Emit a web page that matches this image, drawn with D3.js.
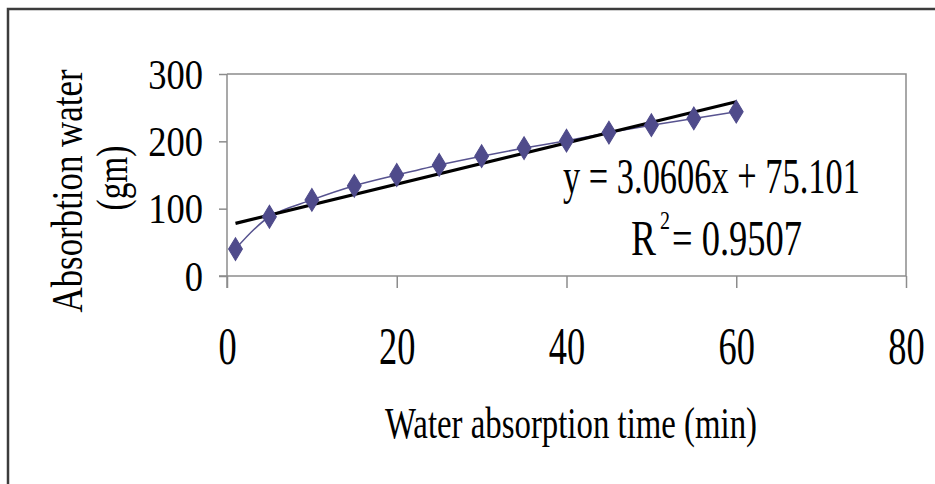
<!DOCTYPE html>
<html>
<head>
<meta charset="utf-8">
<script src="https://cdn.jsdelivr.net/npm/d3@7"></script>
<style>
  html, body { margin: 0; padding: 0; background: #fff; }
  svg { display: block; }
  text { font-family: "Liberation Serif", "Times New Roman", serif; fill: #000; }
</style>
</head>
<body>
<svg id="chart" width="935" height="484"></svg>
<script>
// ---- data ----
const timeMin = [1, 5, 10, 15, 20, 25, 30, 35, 40, 45, 50, 55, 60];
const waterGm = [40, 88, 113, 134, 150, 165, 178, 190, 201, 213, 224, 234, 244];
const xTicks = [0, 20, 40, 60, 80];
const yTicks = [0, 100, 200, 300];
const trendSlope = 3.0606;
const trendIntercept = 75.101;
const equationText = "y = 3.0606x + 75.101";
const r2Value = "= 0.9507";
const xTitle = "Water absorption time (min)";
const yTitleLines = ["Absorbtion water", "(gm)"];

// ---- layout ----
const svg = d3.select("#chart");
const W = 935, H = 484;
const plot = { left: 227, right: 906, top: 74, bottom: 276 };
const x = d3.scaleLinear().domain([0, 80]).range([plot.left, plot.right]);
const y = d3.scaleLinear().domain([0, 300]).range([plot.bottom, plot.top]);

svg.append("rect").attr("width", W).attr("height", H).attr("fill", "#fff");

// outer frame
svg.append("rect")
  .attr("x", 8).attr("y", 9).attr("width", W + 20).attr("height", H + 20)
  .attr("fill", "none").attr("stroke", "#3c3c3c").attr("stroke-width", 2.5);

function squeeze(sel, factor) {
  sel.each(function () {
    const n = this.getComputedTextLength();
    d3.select(this).attr("textLength", n * factor).attr("lengthAdjust", "spacingAndGlyphs");
  });
}

// plot border (top & right)
svg.append("path")
  .attr("d", `M${plot.left},${plot.top}H${plot.right}V${plot.bottom}`)
  .attr("fill", "none").attr("stroke", "#8c8c8c").attr("stroke-width", 1.5);

// axes
const xAxis = d3.axisBottom(x).tickValues(xTicks).tickSize(12).tickSizeOuter(0).tickFormat(d3.format("d"));
const gx = svg.append("g").attr("transform", `translate(0,${plot.bottom})`).call(xAxis);
gx.select(".domain").attr("stroke", "#8c8c8c").attr("stroke-width", 1.5)
  .attr("d", `M${plot.left - 8},0H${plot.right}`);
gx.selectAll(".tick line").attr("stroke", "#8c8c8c").attr("stroke-width", 1.5);
gx.selectAll(".tick text")
  .attr("y", 0).attr("dy", 0)
  .attr("transform", "translate(0,88)")
  .style("font-size", "52px").style("font-family", "Liberation Serif").attr("fill", "#000");
squeeze(gx.selectAll(".tick text"), 0.7);

const yAxis = d3.axisLeft(y).tickValues(yTicks).tickSize(8).tickSizeOuter(0).tickFormat(d3.format("d"));
const gy = svg.append("g").attr("transform", `translate(${plot.left},0)`).call(yAxis);
gy.select(".domain").attr("stroke", "#8c8c8c").attr("stroke-width", 1.5)
  .attr("d", `M0,${plot.top}V${plot.bottom + 12}`);
gy.selectAll(".tick line").attr("stroke", "#8c8c8c").attr("stroke-width", 1.5);
gy.selectAll(".tick text")
  .attr("x", -24).attr("dy", "0.34em")
  .style("font-size", "42px").style("font-family", "Liberation Serif").attr("fill", "#000");
squeeze(gy.selectAll(".tick text"), 0.87);

// series line (smoothed)
const pts = timeMin.map((t, i) => [t, waterGm[i]]);
const line = d3.line().x(d => x(d[0])).y(d => y(d[1])).curve(d3.curveCatmullRom.alpha(0.5));
svg.append("path").datum(pts)
  .attr("d", line).attr("fill", "none")
  .attr("stroke", "#57538f").attr("stroke-width", 1.5);

// trendline
const xMin = d3.min(timeMin), xMax = d3.max(timeMin);
svg.append("line")
  .attr("x1", x(xMin)).attr("y1", y(trendSlope * xMin + trendIntercept))
  .attr("x2", x(xMax)).attr("y2", y(trendSlope * xMax + trendIntercept))
  .attr("stroke", "#000").attr("stroke-width", 3.2);

// markers
const diamond = d3.symbol().type(d3.symbolDiamond).size(150);
svg.selectAll("path.marker").data(pts).join("path")
  .attr("class", "marker")
  .attr("d", diamond)
  .attr("transform", d => `translate(${x(d[0])},${y(d[1])}) scale(1.05,1)`)
  .attr("fill", "#4f4b8b").attr("stroke", "#4f4b8b").attr("stroke-width", 1);

// equation labels
svg.append("text")
  .attr("x", 563).attr("y", 193).attr("text-anchor", "start")
  .style("font-size", "50px").text(equationText)
  .attr("textLength", 297).attr("lengthAdjust", "spacingAndGlyphs");

svg.append("text")
  .attr("x", 631).attr("y", 255).attr("text-anchor", "start")
  .style("font-size", "50px").text("R")
  .attr("textLength", 25).attr("lengthAdjust", "spacingAndGlyphs");
svg.append("text")
  .attr("x", 660).attr("y", 229).attr("text-anchor", "start")
  .style("font-size", "26px").text("2")
  .attr("textLength", 10).attr("lengthAdjust", "spacingAndGlyphs");
svg.append("text")
  .attr("x", 672).attr("y", 255).attr("text-anchor", "start")
  .style("font-size", "50px").text(r2Value)
  .attr("textLength", 130).attr("lengthAdjust", "spacingAndGlyphs");

// axis titles
svg.append("text")
  .attr("x", 571).attr("y", 438).attr("text-anchor", "middle")
  .style("font-size", "45px").text(xTitle)
  .attr("textLength", 372).attr("lengthAdjust", "spacingAndGlyphs");

svg.append("text")
  .attr("transform", "translate(82,191) rotate(-90)")
  .attr("text-anchor", "middle").style("font-size", "44px").text(yTitleLines[0])
  .attr("textLength", 243).attr("lengthAdjust", "spacingAndGlyphs");
svg.append("text")
  .attr("transform", "translate(127,178) rotate(-90)")
  .attr("text-anchor", "middle").style("font-size", "44px").text(yTitleLines[1])
  .attr("textLength", 65).attr("lengthAdjust", "spacingAndGlyphs");
</script>
</body>
</html>
